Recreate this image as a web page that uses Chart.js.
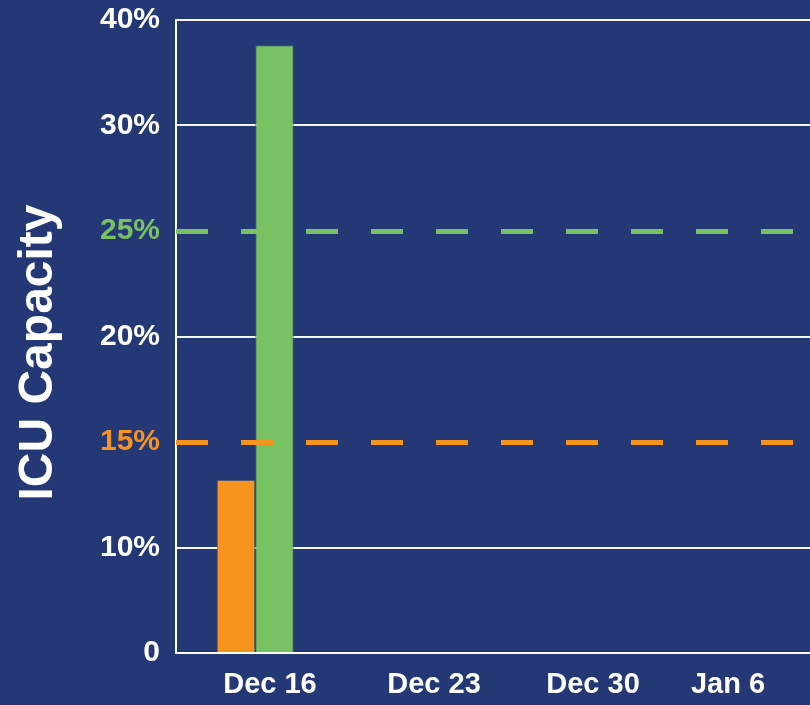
<!DOCTYPE html>
<html>
<head>
<meta charset="utf-8">
<script src="https://cdn.jsdelivr.net/npm/chart.js@4"></script>
<style>
  html, body { margin: 0; padding: 0; background: #243875; }
  #wrap { width: 810px; height: 705px; }
</style>
</head>
<body>
<div id="wrap"><canvas id="c" width="810" height="705"></canvas></div>
<script>
// ---- data ----
const categories = ['Dec 16', 'Dec 23', 'Dec 30', 'Jan 6'];
const orangeValues = [13.2, null, null, null];
const greenValues = [37.6, null, null, null];
const yTickValues = [0, 10, 15, 20, 25, 30, 40];
const yTickLabels = ['0', '10%', '15%', '20%', '25%', '30%', '40%'];
const thresholdValues = [15, 25];
const axisTitle = 'ICU Capacity';

// ---- style ----
const BG = '#243875';
const ORANGE = '#F7941D';
const GREEN = '#79C263';
const WHITE = '#FFFFFF';
const FONT = '"Liberation Sans", Arial, Helvetica, sans-serif';
const xLabelPositions = [0.593, 1.628, 2.631, 3.483];
const thresholdColors = [ORANGE, GREEN];
const yTickColors = [WHITE, WHITE, ORANGE, WHITE, GREEN, WHITE, WHITE];
const yGridShown = [false, true, false, true, false, true, true];

// the reference axis has evenly spaced ticks with uneven values: map value -> tick slot
function toAxis(v) {
  if (v === null || v === undefined) return null;
  for (let i = 0; i < yTickValues.length - 1; i++) {
    const a = yTickValues[i], b = yTickValues[i + 1];
    if (v <= b) return i + (v - a) / (b - a);
  }
  return yTickValues.length - 1;
}

const bgPlugin = {
  id: 'bg',
  beforeDraw(chart) {
    const ctx = chart.ctx;
    ctx.save();
    ctx.fillStyle = BG;
    ctx.fillRect(0, 0, chart.width, chart.height);
    ctx.restore();
  }
};

const titlePlugin = {
  id: 'ytitle',
  afterDraw(chart) {
    const ctx = chart.ctx;
    const area = chart.chartArea;
    ctx.save();
    ctx.translate(52, (area.top + area.bottom) / 2 + 16);
    ctx.rotate(-Math.PI / 2);
    ctx.font = 'bold 48px ' + FONT;
    ctx.fillStyle = WHITE;
    ctx.textAlign = 'center';
    ctx.textBaseline = 'alphabetic';
    ctx.fillText(axisTitle, 0, 0);
    ctx.restore();
  }
};

new Chart(document.getElementById('c'), {
  type: 'bar',
  data: {
    labels: categories,
    datasets: [
      {
        label: 'Orange', data: orangeValues.map(toAxis),
        backgroundColor: ORANGE, borderColor: 'rgba(90,92,110,0.9)', borderWidth: 1,
        categoryPercentage: 0.486, barPercentage: 1, xAxisID: 'x', yAxisID: 'y'
      },
      {
        label: 'Green', data: greenValues.map(toAxis),
        backgroundColor: GREEN, borderColor: 'rgba(90,92,110,0.9)', borderWidth: 1,
        categoryPercentage: 0.486, barPercentage: 1, xAxisID: 'x', yAxisID: 'y'
      }
    ]
  },
  options: {
    responsive: false,
    animation: false,
    events: [],
    layout: { padding: { top: 20, left: 0, right: 0, bottom: 0 } },
    plugins: { legend: { display: false }, tooltip: { enabled: false } },
    scales: {
      x: {
        type: 'category', position: 'bottom', offset: true, weight: 0,
        grid: { display: false, drawTicks: false },
        border: { display: true, color: WHITE, width: 2 },
        ticks: { display: false },
        afterFit(s) { s.height = 0; }
      },
      xl: {
        type: 'linear', position: 'bottom', min: 0, max: 4, weight: 1, offset: false,
        grid: { display: false, drawTicks: false },
        border: { display: false },
        afterBuildTicks(s) { s.ticks = xLabelPositions.map(v => ({ value: v })); },
        ticks: {
          autoSkip: false, maxRotation: 0, color: WHITE, padding: 15,
          font: { family: FONT, size: 29, weight: 'bold' },
          callback(value, index) { return categories[index]; }
        },
        afterFit(s) { s.height = 52; s.paddingLeft = 0; s.paddingRight = 0; }
      },
      y: {
        type: 'linear', position: 'left', min: 0, max: yTickValues.length - 1, weight: 1,
        grid: {
          drawTicks: false, lineWidth: 2,
          color(ctx) { return yGridShown[ctx.index] ? 'rgba(255,255,255,0.95)' : 'rgba(0,0,0,0)'; }
        },
        border: { display: true, color: WHITE, width: 2 },
        ticks: {
          stepSize: 1, padding: 16,
          font: { family: FONT, size: 30, weight: 'bold' },
          color(ctx) { return yTickColors[ctx.index] || WHITE; },
          callback(value, index) { return yTickLabels[index]; }
        },
        afterFit(s) { s.width = 176; s.paddingTop = 0; s.paddingBottom = 0; }
      },
      yThreshold: {
        type: 'linear', position: 'left', min: 0, max: yTickValues.length - 1, weight: 0,
        afterBuildTicks(s) { s.ticks = thresholdValues.map(v => ({ value: toAxis(v) })); },
        grid: {
          drawTicks: false, lineWidth: 5, z: 1,
          color(ctx) { return thresholdColors[ctx.index]; }
        },
        border: { display: false, dash: [32, 33] },
        ticks: { display: false },
        afterFit(s) { s.width = 0; s.paddingTop = 0; s.paddingBottom = 0; }
      }
    }
  },
  plugins: [bgPlugin, titlePlugin]
});
</script>
</body>
</html>
